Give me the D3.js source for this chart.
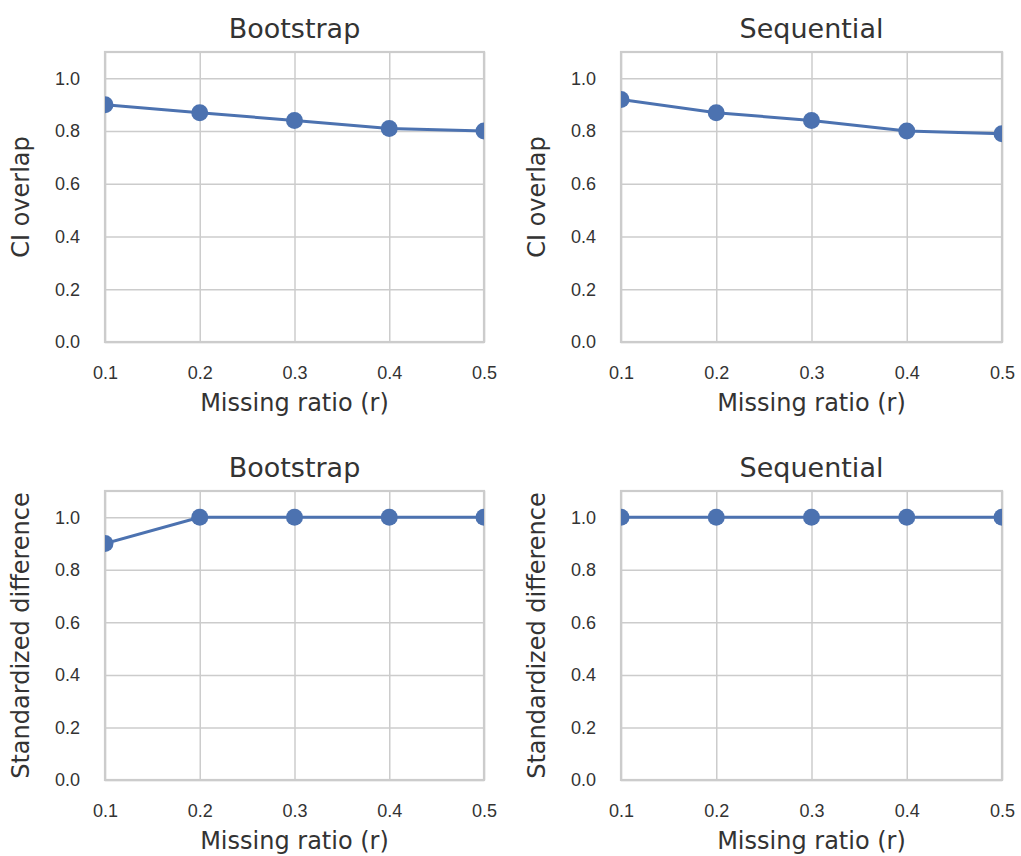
<!DOCTYPE html>
<html>
<head>
<meta charset="utf-8">
<script src="https://cdn.jsdelivr.net/npm/d3@7"></script>
<style>
  body { margin: 0; background: #fff; }
  svg { display: block; font-family: "DejaVu Sans", sans-serif; }
</style>
</head>
<body>
<div id="chart"></div>
<script>
// data
const ratios = [0.1, 0.2, 0.3, 0.4, 0.5];
const yTicks = [0, 0.2, 0.4, 0.6, 0.8, 1.0];
const bootstrapOverlap = [0.90, 0.87, 0.84, 0.81, 0.80];
const sequentialOverlap = [0.92, 0.87, 0.84, 0.80, 0.79];
const bootstrapStdDiff = [0.90, 1.0, 1.0, 1.0, 1.0];
const sequentialStdDiff = [1.0, 1.0, 1.0, 1.0, 1.0];
const titles = ['Bootstrap', 'Sequential'];
const yLabels = ['CI overlap', 'Standardized difference'];
const xLabel = 'Missing ratio (r)';

const W = 1021, H = 856;
const blue = '#4c72b0';
const textColor = '#333';
const gridColor = '#cccccc';

const panels = [
    {title: titles[0], ylab: yLabels[0], values: bootstrapOverlap,  x0: 105, x1: 484,  y0: 52,  y1: 342},
    {title: titles[1], ylab: yLabels[0], values: sequentialOverlap, x0: 621, x1: 1002, y0: 52,  y1: 342},
    {title: titles[0], ylab: yLabels[1], values: bootstrapStdDiff,  x0: 105, x1: 484,  y0: 491, y1: 780},
    {title: titles[1], ylab: yLabels[1], values: sequentialStdDiff, x0: 621, x1: 1002, y0: 491, y1: 780}
];

const svg = d3.select('#chart').append('svg')
    .attr('width', W)
    .attr('height', H);

panels.forEach((p, i) => {
    const w = p.x1 - p.x0, h = p.y1 - p.y0;
    const g = svg.append('g').attr('transform', `translate(${p.x0},${p.y0})`);

    const x = d3.scaleLinear().domain([0.1, 0.5]).range([0, w]);
    const y = d3.scaleLinear().domain([0, 1.1]).range([h, 0]);

    // x axis + vertical grid
    const xa = g.append('g')
        .attr('transform', `translate(0,${h})`)
        .call(d3.axisBottom(x).tickValues(ratios).tickFormat(d3.format('.1f'))
            .tickSize(-h).tickPadding(24));
    // y axis + horizontal grid
    const ya = g.append('g')
        .call(d3.axisLeft(y).tickValues(yTicks).tickFormat(d3.format('.1f'))
            .tickSize(-w).tickPadding(25));

    [xa, ya].forEach(a => {
        a.select('.domain').remove();
        a.selectAll('line').attr('stroke', gridColor).attr('stroke-width', 1.5);
        a.selectAll('text').attr('fill', textColor).style('font-size', '18px');
    });

    // frame
    g.append('rect')
        .attr('width', w).attr('height', h)
        .attr('fill', 'none')
        .attr('stroke', gridColor)
        .attr('stroke-width', 2.2);

    // clip so markers at the edges are cut like in the figure
    svg.append('clipPath').attr('id', 'clip' + i)
        .append('rect').attr('width', w).attr('height', h);
    const plot = g.append('g').attr('clip-path', `url(#clip${i})`);

    const pts = ratios.map((r, k) => ({r, v: p.values[k]}));
    plot.append('path')
        .datum(pts)
        .attr('fill', 'none')
        .attr('stroke', blue)
        .attr('stroke-width', 3)
        .attr('d', d3.line().x(d => x(d.r)).y(d => y(d.v)));
    plot.selectAll('circle')
        .data(pts)
        .enter().append('circle')
        .attr('cx', d => x(d.r))
        .attr('cy', d => y(d.v))
        .attr('r', 8.5)
        .attr('fill', blue);

    // title
    g.append('text')
        .attr('x', w / 2)
        .attr('y', -14)
        .attr('text-anchor', 'middle')
        .attr('fill', textColor)
        .style('font-size', '27px')
        .text(p.title);

    // x label
    g.append('text')
        .attr('x', w / 2)
        .attr('y', h + 69)
        .attr('text-anchor', 'middle')
        .attr('fill', textColor)
        .style('font-size', '24px')
        .text(xLabel);

    // y label
    g.append('text')
        .attr('transform', `translate(${-76},${h / 2}) rotate(-90)`)
        .attr('text-anchor', 'middle')
        .attr('fill', textColor)
        .style('font-size', '24px')
        .text(p.ylab);
});
</script>
</body>
</html>
